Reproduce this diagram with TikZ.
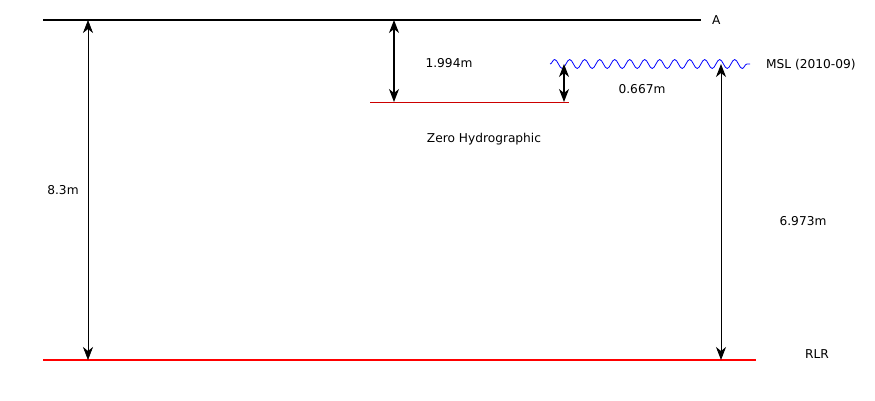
\documentclass[tikz,border=0pt]{standalone}
\usepackage{fontspec}
\setmainfont{DejaVu Sans}
\usetikzlibrary{arrows.meta, positioning, decorations.pathmorphing}

\begin{document}
\begin{tikzpicture}[
    x=1pt, y=-1pt,
    lbl/.style={font=\fontsize{12.2}{14}\selectfont, inner sep=0pt},
    dim/.style={{Stealth[length=13pt,width=10pt,inset=4pt]}-{Stealth[length=13pt,width=10pt,inset=4pt]}, line width=0.9pt},
    level/.style={line width=2pt},
    >=Stealth
]
\useasboundingbox (0,0) rectangle (875,400);

% Levels
\draw[level, black] (43,20) coordinate (a0) -- (701,20) coordinate (a1);
\node[lbl, anchor=west] (labA) at (712,20) {A};
\draw[level, red] (43,360) coordinate (r0) -- (756,360) coordinate (r1);
\node[lbl] (labRLR) at (817,354) {RLR};

% Zero hydrographic
\draw[red!80!black, line width=1pt] (370,102) coordinate (z0) -- (569,102) coordinate (z1);
\node[lbl] (labZH) at (484,139) {Zero Hydrographic};

% Mean sea level
\draw[blue, line width=0.8pt, decorate, decoration={snake, segment length=15pt, amplitude=4.5pt}]
    (550,64) coordinate (m0) -- (750,64) coordinate (m1);
\node[lbl, anchor=west] (labMSL) at (766,65) {MSL (2010-09)};

% Dimension arrows
\coordinate (d1t) at (88,20);  \coordinate (d1b) at (88,360);
\coordinate (d2t) at (394,20); \coordinate (d2b) at (394,102);
\coordinate (d3t) at (564,64); \coordinate (d3b) at (564,102);
\coordinate (d4t) at (721,64); \coordinate (d4b) at (721,360);
\draw[dim, line width=0.6pt] (d1t) -- (d1b);
\draw[dim, line width=1.2pt] (d2t) -- (d2b);
\draw[dim, line width=1.2pt] (d3t) -- (d3b);
\draw[dim, line width=1pt] (d4t) -- (d4b);

\node[lbl] (lab1) at (63,190) {8.3m};
\node[lbl] (lab2) at (449,63) {1.994m};
\node[lbl] (lab3) at (642,89) {0.667m};
\node[lbl] (lab4) at (803,221) {6.973m};

\end{tikzpicture}
\end{document}
